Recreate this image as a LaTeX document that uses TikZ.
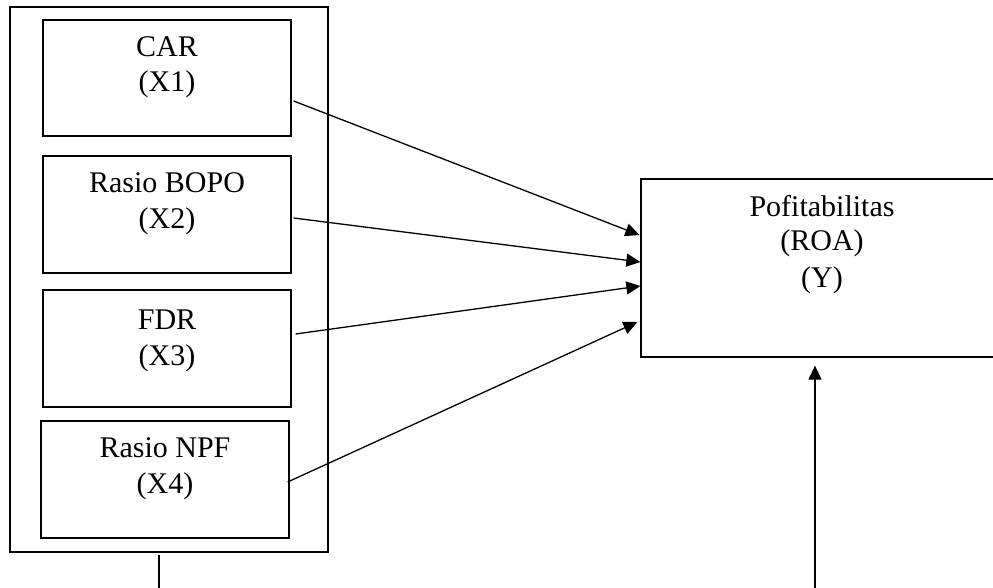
\documentclass[tikz,border=0pt]{standalone}
\usepackage{fontspec}
\setmainfont{Liberation Serif}
\usetikzlibrary{arrows.meta,calc}

\begin{document}
\begin{tikzpicture}[x=1pt,y=-1pt,
    box/.style={draw, line width=1.3pt, rectangle, inner sep=0pt},
    word/.style={anchor=base, inner sep=0pt, font=\fontsize{30}{36}\selectfont},
    link/.style={line width=1.3pt, -{Triangle[length=14pt,width=13pt]}}]
  \useasboundingbox (0,0) rectangle (993,588);
  \clip (0,0) rectangle (993,588);

  % outer frame holding the independent variables
  \node[box, minimum width=318pt, minimum height=545pt] (outer) at (169,279.5) {};

  % independent variables
  \node[box, minimum width=248pt, minimum height=116pt] (car)  at (167,78) {};
  \node[box, minimum width=248pt, minimum height=117pt] (bopo) at (167,214.5) {};
  \node[box, minimum width=248pt, minimum height=117pt] (fdr)  at (167,348.5) {};
  \node[box, minimum width=248pt, minimum height=117pt] (npf)  at (165,479.5) {};

  \node[word] (t1a) at (167,57)  {CAR};
  \node[word] (t1b) at (167,92)  {(X1)};
  \node[word] (t2a) at (167,193) {Rasio BOPO};
  \node[word] (t2b) at (167,229) {(X2)};
  \node[word] (t3a) at (167,329) {FDR};
  \node[word] (t3b) at (167,365) {(X3)};
  \node[word] (t4a) at (165,457) {Rasio NPF};
  \node[word] (t4b) at (165,493) {(X4)};

  % dependent variable
  \node[box, minimum width=362pt, minimum height=178pt] (roa) at (822,268) {};
  \node[word] (t5a) at (822,216) {Pofitabilitas};
  \node[word] (t5b) at (822,251) {(ROA)};
  \node[word] (t5c) at (822,287) {(Y)};

  % influence arrows
  \draw[link] ([shift={(2,23)}]car.east)   -- ([shift={(-1,-33)}]roa.west);
  \draw[link] ([shift={(2,3.5)}]bopo.east) -- ([shift={(0,-6)}]roa.west);
  \draw[link] ([shift={(4,-14.5)}]fdr.east) -- ([shift={(0,18)}]roa.west);
  \draw[link] ([shift={(-2,2.5)}]npf.east) -- ([shift={(-3,54)}]roa.west);

  % lines leaving the bottom edge
  \coordinate (lowleft)  at (159,588);
  \coordinate (lowright) at (815,588);
  \draw[line width=1.3pt] ([shift={(-10,2)}]outer.south) -- (lowleft);
  \draw[link] (lowright) -- ([shift={(-7,8)}]roa.south);
\end{tikzpicture}
\end{document}
